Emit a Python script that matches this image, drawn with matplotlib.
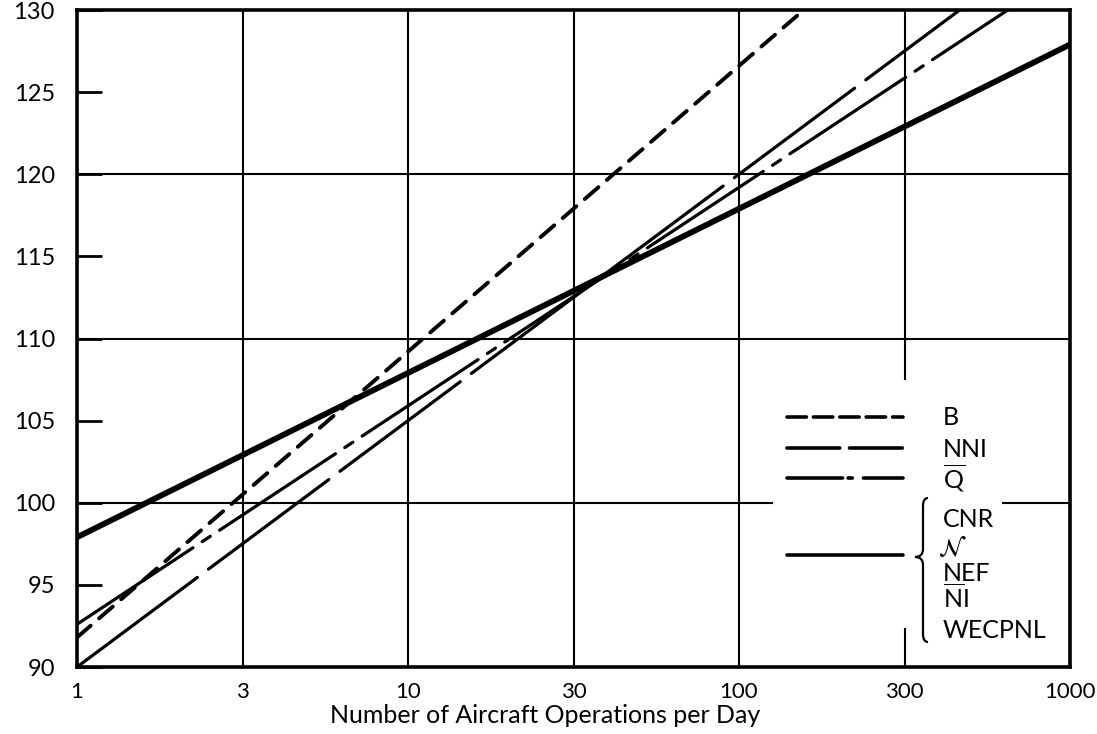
import numpy as np
import matplotlib
matplotlib.use("Agg")
import matplotlib.pyplot as plt
from matplotlib.path import Path
import matplotlib.patches as patches

plt.rcParams['font.family'] = ['Lato', 'DejaVu Sans']
plt.rcParams['mathtext.fontset'] = 'custom'
plt.rcParams['mathtext.rm'] = 'Lato'
plt.rcParams['lines.scale_dashes'] = False

# values read at N = 1 and N = 1000 (straight lines on the log axis)
ops_ends = [1, 1000]
b_vals = [91.8, 144.0]
nni_vals = [90.0, 135.0]
q_vals = [92.6, 132.5]
cnr_vals = [97.9, 127.9]

x_ticks = [1, 10**0.5, 10, 10**1.5, 100, 10**2.5, 1000]
x_labels = ['1', '3', '10', '30', '100', '300', '1000']
y_ticks = list(range(90, 131, 5))
y_grid = [100, 110, 120]

W, H = 1097, 734
L, R, T, B = 77, 1070, 10, 667


def ax_xy(px, py):
    return (px - L) / (R - L), (B - py) / (B - T)


fig = plt.figure(figsize=(W / 100, H / 100), dpi=100)
ax = fig.add_axes([L / W, 1 - B / H, (R - L) / W, (B - T) / H])
ax.set_xscale('log')
ax.set_xlim(1, 1000)
ax.set_ylim(90, 130)
ax.set_axisbelow(True)

ax.set_xticks(x_ticks)
ax.set_xticklabels(x_labels)
ax.xaxis.set_minor_locator(matplotlib.ticker.NullLocator())
ax.tick_params(axis='x', length=0, pad=11, labelsize=16)
ax.set_yticks(y_ticks)
ax.tick_params(axis='y', direction='in', length=18, width=2, pad=16, labelsize=17)
ax.grid(True, axis='x', which='major', color='black', lw=1.5)
for v in y_grid:
    ax.axhline(v, color='black', lw=1.5, zorder=0.8)
for s in ax.spines.values():
    s.set_linewidth(2.6)

# white block behind the key hides the grid
x0, y0 = ax_xy(773, 628)
x1, y1 = ax_xy(1002, 380)
ax.add_patch(patches.Rectangle((x0, y0), x1 - x0, y1 - y0, transform=ax.transAxes,
                               facecolor='white', edgecolor='none', zorder=1))

nni_dash = (0, (108, 10))
q_dash = (0, (100, 8, 7, 8))
b_dash = (0, (13, 8))

ax.plot(ops_ends, cnr_vals, color='black', lw=4.2, solid_capstyle='round', zorder=3)
ax.plot(ops_ends, b_vals, color='black', lw=2.8, ls=b_dash, dash_capstyle='round', zorder=3)
ax.plot(ops_ends, nni_vals, color='black', lw=2.3, ls=nni_dash, dash_capstyle='round', zorder=3)
ax.plot(ops_ends, q_vals, color='black', lw=2.3, ls=q_dash, dash_capstyle='round', zorder=3)

fig.text(545 / W, 1 - 723 / H, 'Number of Aircraft Operations per Day', fontsize=18,
         ha='center', va='baseline')

# key
kx0 = ax_xy(787, 0)[0]
kx1 = ax_xy(903, 0)[0]
key = [(417, (0, (14, 5))), (448, (0, (38, 7))), (478, (0, (40, 4, 3, 8))), (555, '-')]
for py, ls in key:
    ky = ax_xy(0, py)[1]
    ax.plot([kx0, kx1], [ky, ky], transform=ax.transAxes, color='black', lw=2.6,
            ls=ls, dash_capstyle='round', solid_capstyle='round', zorder=3)

tx = ax_xy(943, 0)[0]
labels = [('B', 425), ('NNI', 457), (r'$\overline{\mathrm{Q}}$', 488), ('CNR', 527),
          ('NEF', 581), (r'$\overline{\mathrm{N}}\mathrm{I}$', 608), ('WECPNL', 638)]
for txt, py in labels:
    ax.text(tx, ax_xy(0, py)[1], txt, transform=ax.transAxes, fontsize=18,
            va='baseline', ha='left', zorder=4)
ax.text(ax_xy(938, 0)[0], ax_xy(0, 556)[1], r'$\mathcal{N}$', transform=ax.transAxes,
        fontsize=18, va='baseline', ha='left', math_fontfamily='stix', zorder=4)

# brace
pts = [(928, 498), (923, 498), (923, 506), (923, 549), (923, 557), (915, 557),
       (923, 557), (923, 565), (923, 634), (923, 642), (928, 642)]
codes = [Path.MOVETO, Path.CURVE3, Path.CURVE3, Path.LINETO, Path.CURVE3, Path.CURVE3,
         Path.CURVE3, Path.CURVE3, Path.LINETO, Path.CURVE3, Path.CURVE3]
brace = Path([ax_xy(*p) for p in pts], codes)
ax.add_patch(patches.PathPatch(brace, transform=ax.transAxes, facecolor='none',
                               edgecolor='black', lw=1.6, zorder=4))

fig.savefig('out.png', dpi=100)
